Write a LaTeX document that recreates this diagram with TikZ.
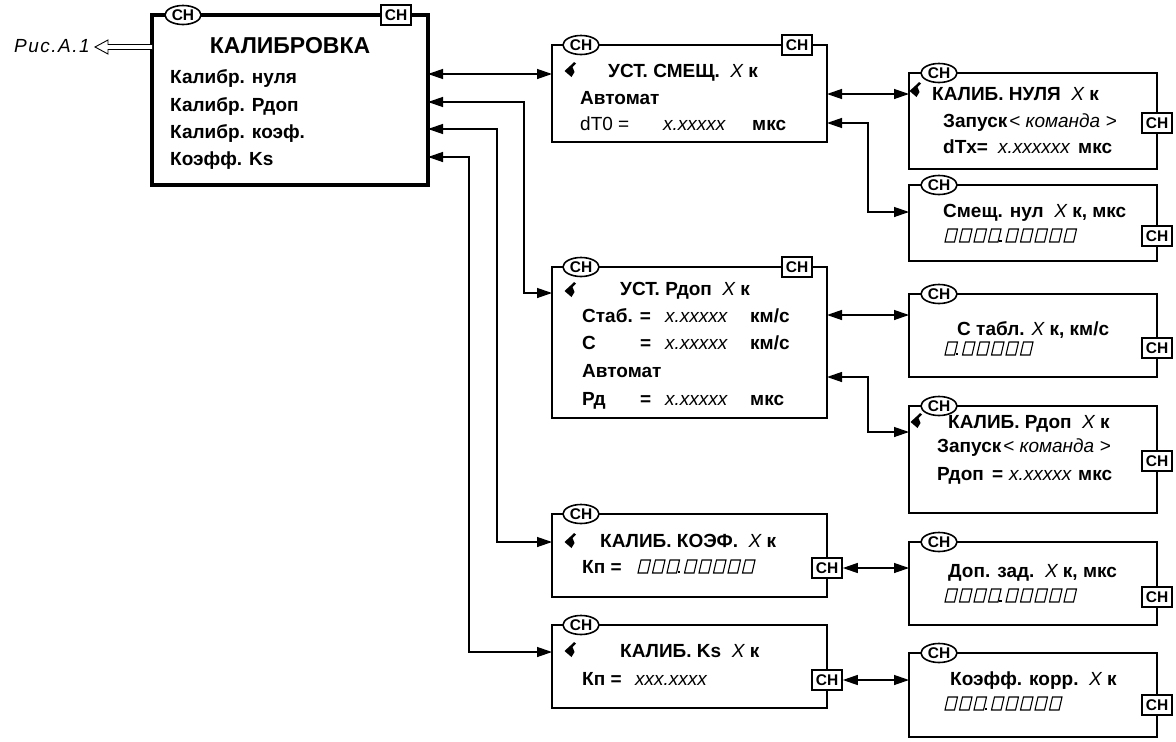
\documentclass[tikz,border=0pt]{standalone}
\usepackage{fontspec}
\setmainfont{Liberation Sans}
\newfontfamily\risfont[LetterSpace=8]{Liberation Sans}
\usetikzlibrary{arrows.meta,shapes.geometric}
\newcommand\ital[1]{{\mdseries\itshape #1}}
\newcommand\segrow[4]{%
  \foreach \i in {1,...,#3}{\draw[seg] ({#1+(\i-1)*14.5},#2) -- ++(9.5,0) -- ++(3,-13) -- ++(-9.5,0) -- cycle;}%
  \fill ({#1+(#3-1)*14.5+10.5},#2) rectangle ++(2.5,-2.5);%
  \foreach \i in {1,...,#4}{\draw[seg] ({#1+#3*14.5+3+(\i-1)*14.5},#2) -- ++(9.5,0) -- ++(3,-13) -- ++(-9.5,0) -- cycle;}%
}
\tikzset{
  scr/.style={draw, line width=2.5pt, rectangle, anchor=north west, inner sep=0pt, outer sep=0pt},
  mainbox/.style={scr, line width=4pt},
  lab/.style={anchor=base west, inner sep=0pt, font=\fontsize{19}{19}\selectfont\bfseries},
  oval/.style={draw, fill=white, ellipse, line width=1.6pt, minimum width=36pt, minimum height=19pt, inner sep=0pt, font=\fontsize{15.5}{15.5}\selectfont\bfseries},
  chb/.style={draw, fill=white, rectangle, line width=1.6pt, minimum width=30pt, minimum height=20pt, inner sep=0pt, font=\fontsize{15.5}{15.5}\selectfont\bfseries},
  conn/.style={line width=1.3pt, {Triangle[length=15pt,width=10pt]}-{Triangle[length=15pt,width=10pt]}},
  seg/.style={line width=1.1pt},
  cur/.pic={\fill (-6.5,1) -- (-0.5,-4.5) -- (3,-8) -- (5,-6.5) -- (1.5,-3) -- (3.5,2) -- (0.5,7) -- cycle;}
}
\begin{document}
\begin{tikzpicture}[x=1pt,y=-1pt]
\useasboundingbox (0,0) rectangle (1176,742);
% boxes
\node[mainbox, minimum width=276pt, minimum height=170pt] (main) at (152,15) {};
\node[scr, minimum width=275pt, minimum height=97pt] (b1) at (552,45) {};
\node[scr, minimum width=248pt, minimum height=96pt] (r1) at (909,73) {};
\node[scr, minimum width=248pt, minimum height=76pt] (r2) at (909,185) {};
\node[scr, minimum width=275pt, minimum height=151pt] (b3) at (552,267) {};
\node[scr, minimum width=248pt, minimum height=83pt] (r3) at (909,294) {};
\node[scr, minimum width=248pt, minimum height=107pt] (r4) at (909,406) {};
\node[scr, minimum width=275pt, minimum height=83pt] (b5) at (552,514) {};
\node[scr, minimum width=248pt, minimum height=83pt] (r5) at (909,542) {};
\node[scr, minimum width=275pt, minimum height=83pt] (b6) at (552,625) {};
\node[scr, minimum width=248pt, minimum height=84pt] (r6) at (909,653) {};
% ovals
\node[oval] (o0) at ([xshift=31pt]main.north west) {СН};
\node[oval] (o1) at ([xshift=29pt]b1.north west) {СН};
\node[oval] (o2) at ([xshift=30pt]r1.north west) {СН};
\node[oval] (o3) at ([xshift=30pt]r2.north west) {СН};
\node[oval] (o4) at ([xshift=29pt]b3.north west) {СН};
\node[oval] (o5) at ([xshift=30pt]r3.north west) {СН};
\node[oval] (o6) at ([xshift=30pt]r4.north west) {СН};
\node[oval] (o7) at ([xshift=29pt]b5.north west) {СН};
\node[oval] (o8) at ([xshift=30pt]r5.north west) {СН};
\node[oval] (o9) at ([xshift=29pt]b6.north west) {СН};
\node[oval] (o10) at ([xshift=30pt]r6.north west) {СН};
% CH keys
\node[chb] (k0) at ([xshift=-32pt]main.north east) {СН};
\node[chb] (k1) at ([xshift=-30pt]b1.north east) {СН};
\node[chb] (k3) at ([xshift=-30pt]b3.north east) {СН};
\node[chb] (kr1) at (r1.east |- 0,123) {СН};
\node[chb] (kr2) at (r2.east |- 0,236) {СН};
\node[chb] (kr3) at (r3.east |- 0,348) {СН};
\node[chb] (kr4) at (r4.east |- 0,461) {СН};
\node[chb] (k5) at (b5.east |- 0,568) {СН};
\node[chb] (kr5) at (r5.east |- 0,597) {СН};
\node[chb] (k6) at (b6.east |- 0,680) {СН};
\node[chb] (kr6) at (r6.east |- 0,705) {СН};
% main box texts
\node[lab, anchor=base, font=\fontsize{23}{23}\selectfont\bfseries] (mt) at (290,53) {КАЛИБРОВКА};
\node[lab] (m1) at (170,83) {Калибр. нуля};
\node[lab] (m2) at (170,111) {Калибр. Рдоп};
\node[lab] (m3) at (170,138) {Калибр. коэф.};
\node[lab] (m4) at (170,165) {Коэфф. Ks};
\node[lab, anchor=base east, font=\fontsize{19}{19}\selectfont\risfont\itshape, inner xsep=5pt, inner ysep=0pt] (ris) at (95,52) {Рис.А.1};
% b1
\pic at (571,70) {cur};
\node[lab] (b1t) at (608,77) {УСТ. СМЕЩ.\ \ \ital{X} к};
\node[lab] (b1a) at (580,104) {Автомат};
\node[lab, font=\fontsize{19}{19}\selectfont] (b1b) at (580,130) {dT0 =};
\node[lab] (b1c) at (663,130) {\ital{x.xxxxx}};
\node[lab] (b1d) at (752,130) {мкс};
% r1
\pic at (916,90) {cur};
\node[lab] (r1t) at (932,100) {КАЛИБ. НУЛЯ\ \ \ital{X} к};
\node[lab] (r1a) at (943,127) {Запуск};
\node[lab] (r1b) at (1009,127) {\ital{< команда >}};
\node[lab] (r1c) at (943,153) {dTx=};
\node[lab] (r1d) at (998,153) {\ital{x.xxxxxx}};
\node[lab] (r1e) at (1078,153) {мкс};
% r2
\node[lab] (r2t) at (943,217) {Смещ. нул\ \ \ital{X} к, мкс};
\segrow{945}{242}{4}{5}
% b3
\pic at (571,290) {cur};
\node[lab] (b3t) at (620,295) {УСТ. Рдоп\ \ \ital{X} к};
\node[lab] (b3a) at (582,322) {Стаб. =};
\node[lab] (b3b) at (665,322) {\ital{x.xxxxx}};
\node[lab] (b3c) at (750,322) {км/с};
\node[lab] (b3d) at (582,349) {С};
\node[lab] (b3e) at (640,349) {=};
\node[lab] (b3f) at (665,349) {\ital{x.xxxxx}};
\node[lab] (b3g) at (750,349) {км/с};
\node[lab] (b3h) at (582,377) {Автомат};
\node[lab] (b3i) at (582,405) {Рд};
\node[lab] (b3j) at (640,405) {=};
\node[lab] (b3k) at (665,405) {\ital{x.xxxxx}};
\node[lab] (b3l) at (750,405) {мкс};
% r3
\node[lab] (r3t) at (957,335) {С табл. \ital{X} к, км/с};
\segrow{945}{355}{1}{5}
% r4
\pic at (917,421) {cur};
\node[lab] (r4t) at (948,428) {КАЛИБ. Рдоп\ \ \ital{X} к};
\node[lab] (r4a) at (937,452) {Запуск};
\node[lab] (r4b) at (1003,452) {\ital{< команда >}};
\node[lab] (r4c) at (937,480) {Рдоп};
\node[lab] (r4d) at (992,480) {=};
\node[lab] (r4e) at (1009,480) {\ital{x.xxxxx}};
\node[lab] (r4f) at (1078,480) {мкс};
% b5
\pic at (571,541) {cur};
\node[lab] (b5t) at (600,547) {КАЛИБ. КОЭФ.\ \ \ital{X} к};
\node[lab] (b5a) at (582,573) {Кп =};
\segrow{638}{573}{3}{5}
% r5
\node[lab] (r5t) at (948,577) {Доп. зад.\ \ \ital{X} к, мкс};
\segrow{945}{602}{4}{5}
% b6
\pic at (571,650) {cur};
\node[lab] (b6t) at (620,657) {КАЛИБ. Ks\ \ \ital{X} к};
\node[lab] (b6a) at (582,685) {Кп =};
\node[lab] (b6b) at (635,685) {\ital{xxx.xxxx}};
% r6
\node[lab] (r6t) at (950,685) {Коэфф. корр.\ \ \ital{X} к};
\segrow{945}{710}{3}{5}
% hollow arrow to Рис.А.1
\draw[line width=0.9pt, fill=white] (main.west |- 0,44.5) -- (108,44.5) -- (108,40) -- (ris.east |- 0,47) -- (108,54) -- (108,49.5) -- (main.west |- 0,49.5);
% connectors
\draw[conn] (main.east |- 0,74) -- (b1.west |- 0,74);
\draw[conn] (main.east |- 0,102) -- ++(96,0) |- (b3.west |- 0,293);
\draw[conn] (main.east |- 0,129) -- ++(69,0) |- (b5.west |- 0,542);
\draw[conn] (main.east |- 0,157) -- ++(41,0) |- (b6.west |- 0,652);
\draw[conn] (b1.east |- 0,94) -- (r1.west |- 0,94);
\draw[conn] (b1.east |- 0,123) -- ++(41,0) |- (r2.west |- 0,212);
\draw[conn] (b3.east |- 0,315) -- (r3.west |- 0,315);
\draw[conn] (b3.east |- 0,377) -- ++(41,0) |- (r4.west |- 0,432);
\draw[conn] (k5.east) -- (r5.west |- k5.east);
\draw[conn] (k6.east) -- (r6.west |- k6.east);
\end{tikzpicture}
\end{document}
